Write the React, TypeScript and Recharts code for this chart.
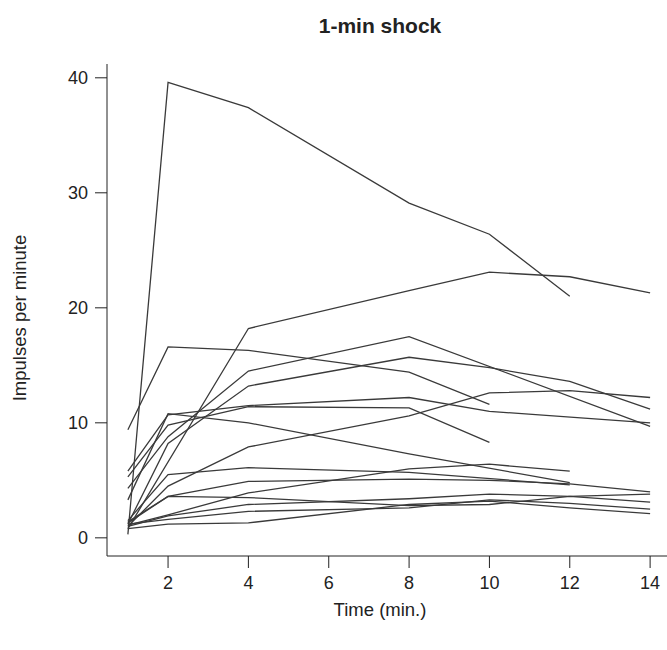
import { LineChart, Line, XAxis, YAxis } from "recharts";

const times = [1, 2, 4, 8, 10, 12, 14];

// one array per animal, values at each time (null = not recorded)
const s1 = [0.3, 39.6, 37.4, 29.1, 26.4, 21.0, null];
const s2 = [0.8, null, 18.2, 21.5, 23.1, 22.7, 21.3];
const s3 = [9.4, 16.6, 16.3, 14.4, 11.6, null, null];
const s4 = [4.3, 8.8, 14.5, 17.5, null, null, 9.7];
const s5 = [1.2, 8.2, 13.2, 15.7, 14.8, 13.6, 11.2];
const s6 = [5.8, 10.7, 11.5, 12.2, 11.0, null, 10.0];
const s7 = [5.3, 9.8, 11.4, 11.3, 8.3, null, null];
const s8 = [3.3, 10.8, 10.0, 7.3, null, 4.8, null];
const s9 = [1.0, 4.5, 7.9, 10.6, 12.6, 12.8, 12.2];
const s10 = [1.5, 5.5, 6.1, 5.7, null, 4.6, null];
const s11 = [1.3, 3.6, 4.9, 5.1, 5.0, 4.7, 4.0];
const s12 = [1.1, 2.0, 3.9, 6.0, 6.4, 5.8, null];
const s13 = [1.0, 1.9, 2.9, 3.4, 3.8, 3.6, 3.8];
const s14 = [1.2, 1.6, 2.3, 2.6, 3.3, 3.0, 2.5];
const s15 = [0.8, 1.2, 1.3, 2.9, 3.2, 2.6, 2.1];
const s16 = [1.4, 3.6, 3.5, 2.8, 2.9, 3.6, 3.1];

const series = [s1, s2, s3, s4, s5, s6, s7, s8, s9, s10, s11, s12, s13, s14, s15, s16];

const xTicks = [2, 4, 6, 8, 10, 12, 14];
const yTicks = [0, 10, 20, 30, 40];

const data = times.map((t, i) => {
  const row: Record<string, number | null> = { t };
  series.forEach((s, k) => {
    row["s" + (k + 1)] = s[i];
  });
  return row;
});

const font = "'Liberation Sans', Arial, sans-serif";
const tickStyle = { fill: "#222", fontSize: 18, fontFamily: font };

export default function App() {
  return (
    <div
      style={{
        position: "absolute",
        left: 0,
        top: 0,
        width: 667,
        height: 650,
        overflow: "hidden",
        background: "#fff",
        fontFamily: font,
        color: "#222",
      }}
    >
      <div
        style={{
          position: "absolute",
          left: 280,
          width: 200,
          top: 14,
          textAlign: "center",
          fontSize: 21,
          fontWeight: "bold",
        }}
      >
        1-min shock
      </div>
      <div
        style={{
          position: "absolute",
          left: 280,
          width: 200,
          top: 599,
          textAlign: "center",
          fontSize: 18.5,
        }}
      >
        Time (min.)
      </div>
      <div
        style={{
          position: "absolute",
          left: 20,
          top: 318,
          transform: "translate(-50%, -50%) rotate(-90deg)",
          whiteSpace: "nowrap",
          fontSize: 18.5,
        }}
      >
        Impulses per minute
      </div>
      <LineChart
        width={680}
        height={650}
        data={data}
        margin={{ top: 64, right: 9, left: 0, bottom: 34 }}
      >
        <XAxis
          dataKey="t"
          type="number"
          domain={[0.48, 14.52]}
          ticks={xTicks}
          allowDataOverflow
          height={60}
          stroke="#222"
          tickSize={12}
          tickMargin={8}
          tick={tickStyle}
        />
        <YAxis
          type="number"
          domain={[-1.58, 41.2]}
          ticks={yTicks}
          allowDataOverflow
          width={107}
          stroke="#222"
          tickSize={12}
          tickMargin={7}
          tick={tickStyle}
        />
        {series.map((_, k) => (
          <Line
            key={k}
            dataKey={"s" + (k + 1)}
            type="linear"
            stroke="#3a3a3a"
            strokeWidth={1.3}
            dot={false}
            connectNulls
            isAnimationActive={false}
          />
        ))}
      </LineChart>
    </div>
  );
}
